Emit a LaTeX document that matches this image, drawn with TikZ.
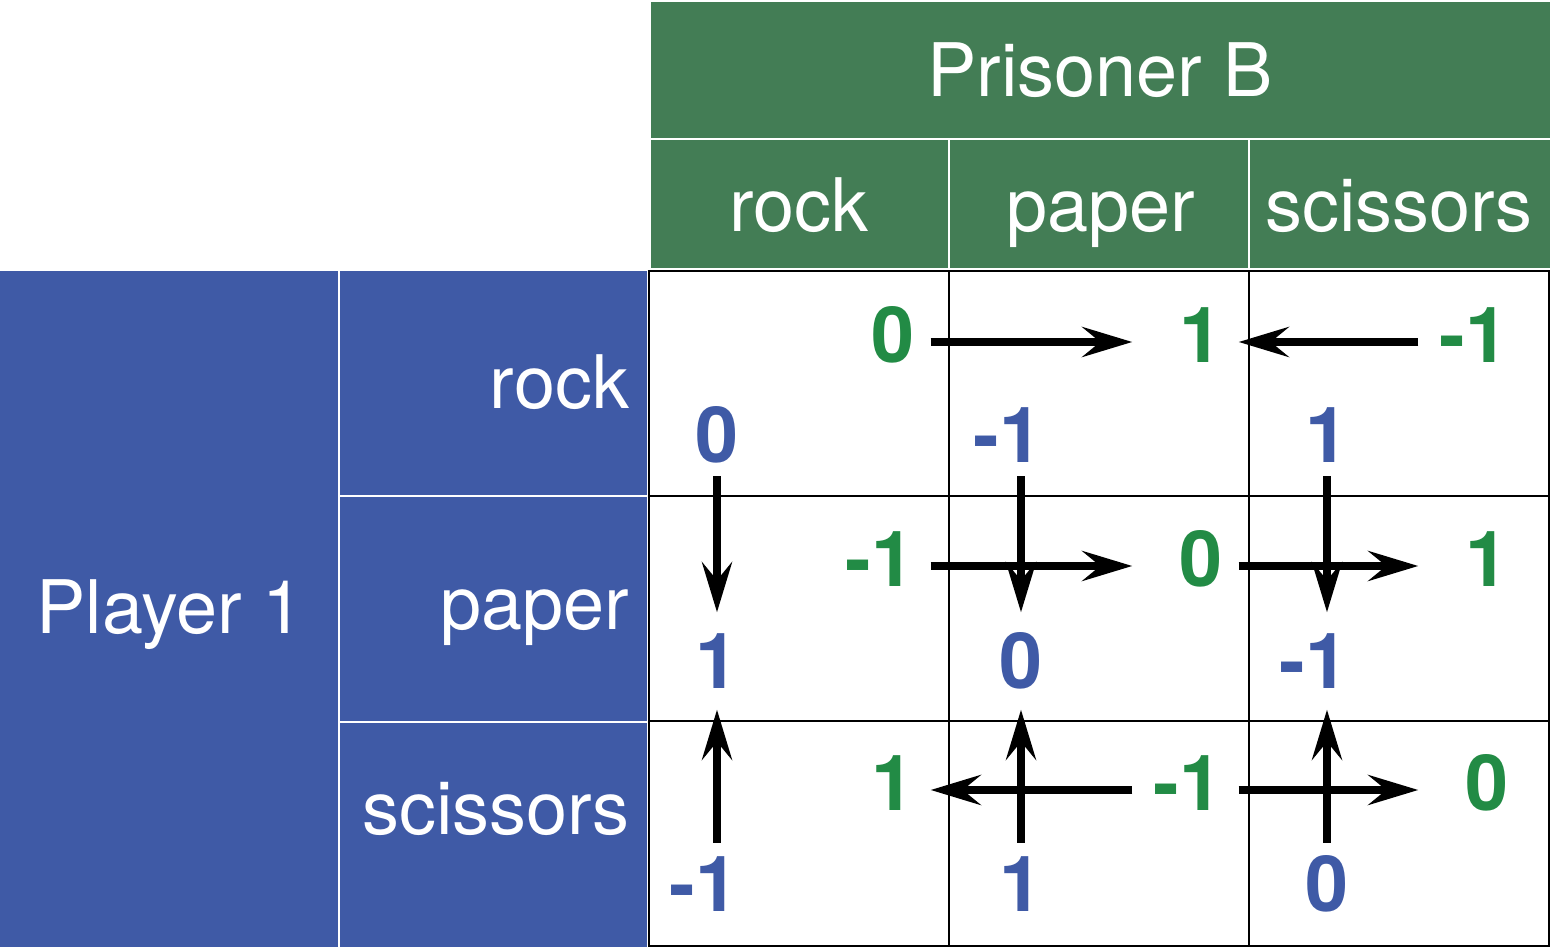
\documentclass[tikz,border=0pt]{standalone}
\usepackage{fontspec}
\setmainfont{TeX Gyre Heros}
\usetikzlibrary{arrows.meta}

\definecolor{headgreen}{RGB}{67,125,85}
\definecolor{headblue}{RGB}{63,90,166}
\definecolor{paygreen}{RGB}{34,139,69}

\begin{document}
\begin{tikzpicture}[x=0.01cm, y=-0.01cm,
        hdtext/.style={text=white, inner sep=0pt, anchor=base, font=\fontsize{21}{25}\selectfont},
        payB/.style={text=paygreen, inner sep=0pt, anchor=base, text height=0.54cm, text depth=0.14cm, font=\bfseries\fontsize{22}{26}\selectfont},
        payA/.style={text=headblue, inner sep=0pt, anchor=base, text height=0.54cm, text depth=0pt, font=\bfseries\fontsize{22}{26}\selectfont},
        cellline/.style={line width=0.022cm},
        move/.style={line width=0.075cm, -{Stealth[length=0.5cm, width=0.3cm, inset=0.18cm]}},
        toR/.style={move, shorten <=0.155cm, shorten >=0.465cm},
        toL/.style={move, shorten <=0.465cm, shorten >=0.155cm},
        toV/.style={move, shorten <=0.135cm, shorten >=0.21cm}]
        \useasboundingbox (0,0) rectangle (1553,948);

        \fill[headgreen] (651,2) rectangle (1550,137.5);
        \fill[headgreen] (651,139.5) rectangle (947.5,268);
        \fill[headgreen] (950,139.5) rectangle (1247.5,268);
        \fill[headgreen] (1250,139.5) rectangle (1550,268);

        \fill[headblue] (0,271) rectangle (338,947);
        \fill[headblue] (340,271) rectangle (647,495);
        \fill[headblue] (340,497) rectangle (647,720.5);
        \fill[headblue] (340,722.5) rectangle (647,947);

        \draw[cellline] (649,271) rectangle (1549,946);
        \draw[cellline] (949,271) -- (949,946) (1249,271) -- (1249,946);
        \draw[cellline] (649,496) -- (1549,496) (649,721) -- (1549,721);

        \node[hdtext] (hdB) at (1100,96) {Prisoner B};
        \node[hdtext] (hdBrock) at (799,231) {rock};
        \node[hdtext] (hdBpaper) at (1101,231) {paper};
        \node[hdtext] (hdBscissors) at (1399,231) {scissors};

        \node[hdtext] (hdA) at (170,633) {Player 1};
        \node[hdtext, anchor=base east] (hdArock) at (630,408) {rock};
        \node[hdtext, anchor=base east] (hdApaper) at (630,629) {paper};
        \node[hdtext, anchor=base east] (hdAscissors) at (630,834) {scissors};

        \node[payB] (b11) at (893,362) {0};
        \node[payB] (b12) at (1201,362) {1};
        \node[payB] (b13) at (1487,362) {\llap{-}1};
        \node[payB] (b21) at (893,586) {\llap{-}1};
        \node[payB] (b22) at (1201,586) {0};
        \node[payB] (b23) at (1487,586) {1};
        \node[payB] (b31) at (893,810) {1};
        \node[payB] (b32) at (1201,810) {\llap{-}1};
        \node[payB] (b33) at (1487,810) {0};

        \node[payA] (a11) at (717,462) {0};
        \node[payA] (a12) at (1021,462) {\llap{-}1};
        \node[payA] (a13) at (1327,462) {1};
        \node[payA] (a21) at (717,688) {1};
        \node[payA] (a22) at (1021,688) {0};
        \node[payA] (a23) at (1327,688) {\llap{-}1};
        \node[payA] (a31) at (717,911) {\llap{-}1};
        \node[payA] (a32) at (1021,911) {1};
        \node[payA] (a33) at (1327,911) {0};

        \draw[toR] (b11) -- (b12);
        \draw[toL] (b13) -- (b12);
        \draw[toR] (b21) -- (b22);
        \draw[toR] (b22) -- (b23);
        \draw[toL] (b32) -- (b31);
        \draw[toR] (b32) -- (b33);

        \draw[toV] (a11) -- (a21);
        \draw[toV] (a12) -- (a22);
        \draw[toV] (a13) -- (a23);
        \draw[toV] (a31) -- (a21);
        \draw[toV] (a32) -- (a22);
        \draw[toV] (a33) -- (a23);
    \end{tikzpicture}
\end{document}
